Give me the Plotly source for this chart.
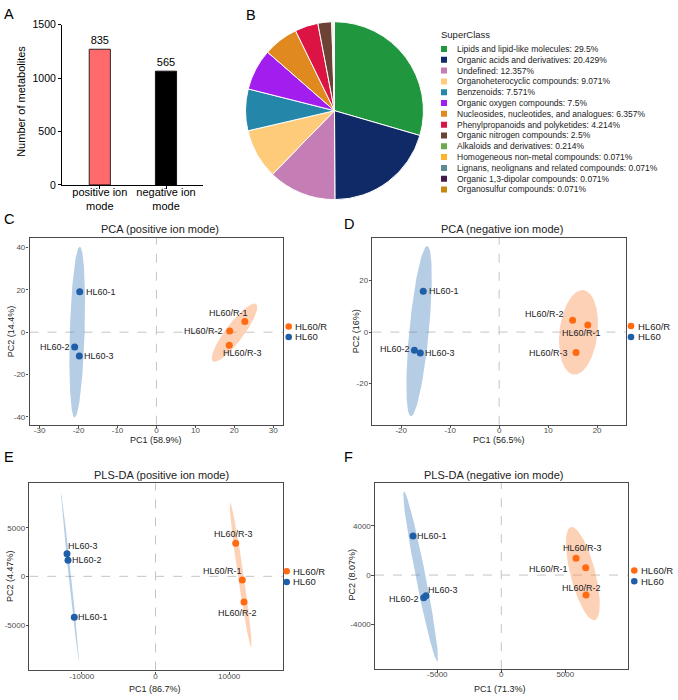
import numpy as np
import plotly.graph_objects as go

W, H = 678, 700
FONT = "Liberation Sans, Arial, sans-serif"


def px(x):
    return x / W


def py(y):
    return 1 - y / H


# ---------------- Panel A data ----------------
bar_categories = ["positive ion<br>mode", "negative ion<br>mode"]
bar_heights = [1270, 1065]
bar_labels = ["835", "565"]
bar_colors = ["#FF6B6B", "#000000"]
bar_yticks = [0, 500, 1000, 1500]

# ---------------- Panel B data ----------------
pie_classes = [
    "Lipids and lipid-like molecules",
    "Organic acids and derivatives",
    "Undefined",
    "Organoheterocyclic compounds",
    "Benzenoids",
    "Organic oxygen compounds",
    "Nucleosides, nucleotides, and analogues",
    "Phenylpropanoids and polyketides",
    "Organic nitrogen compounds",
    "Alkaloids and derivatives",
    "Homogeneous non-metal compounds",
    "Lignans, neolignans and related compounds",
    "Organic 1,3-dipolar compounds",
    "Organosulfur compounds",
]
pie_percent = [29.5, 20.429, 12.357, 9.071, 7.571, 7.5, 6.357, 4.214, 2.5,
               0.214, 0.071, 0.071, 0.071, 0.071]
pie_colors = ["#20963F", "#0F2A66", "#C47DB5", "#FDCB7A", "#2486A9", "#A21EEE",
              "#E0891E", "#DC1444", "#6C4234", "#6DAA4E", "#FFB22E", "#5E8A94",
              "#431A4C", "#C38A12"]

# ---------------- Panels C-F data ----------------
sample_names = ["HL60-1", "HL60-2", "HL60-3", "HL60/R-1", "HL60/R-2", "HL60/R-3"]
sample_groups = ["HL60", "HL60", "HL60", "HL60/R", "HL60/R", "HL60/R"]
group_order = ["HL60/R", "HL60"]
group_colors = {"HL60": "#1F5FA8", "HL60/R": "#FF6A13"}
ellipse_fill = {"HL60": "rgba(70,130,190,0.40)", "HL60/R": "rgba(250,140,70,0.40)"}

pca_pos_pc1 = [-19.7, -21.0, -19.8, 22.7, 18.8, 18.7]
pca_pos_pc2 = [19.1, -7.0, -11.2, 5.0, 0.5, -6.2]
pca_neg_pc1 = [-15.5, -17.3, -16.1, 18.1, 15.0, 15.7]
pca_neg_pc2 = [15.8, -7.0, -8.1, 2.7, 4.6, -7.9]
pls_pos_pc1 = [-11018, -11873, -12008, 11778, 12008, 10882]
pls_pos_pc2 = [-4212, 1646, 2323, -374, -2626, 3394]
pls_neg_pc1 = [-6898, -6063, -5883, 6594, 6617, 5836]
pls_neg_pc2 = [3176, -1840, -1680, 587, -1627, 1360]

# confidence ellipses: center, conjugate semi-axis vectors (data units)
ell_pca_pos = {"HL60": [(-20.35, 0.05), (0.65, 40.35), (1.9, 0.0)],
               "HL60/R": [(20.05, -0.25), (5.55, 13.55), (1.85, -2.5)]}
ell_pca_neg = {"HL60": [(-16.35, 0.35), (1.65, 33.0), (2.0, 0.0)],
               "HL60/R": [(16.2, -0.1), (0.8, 16.4), (3.9, 0.0)]}
ell_pls_pos = {"HL60": [(-11601, -106), (-1221, 8621), (165, 0)],
               "HL60/R": [(11555, 147), (-1446, 7460), (400, 0)]}
ell_pls_neg = {"HL60": [(-6301, -108), (-1301, 6908), (390, 0)],
               "HL60/R": [(6371, 120), (-871, 3800), (1000, 0)]}

panels = [
    dict(key="C", title="PCA (positive ion mode)", xt="PC1 (58.9%)", yt="PC2 (14.4%)",
         x=pca_pos_pc1, y=pca_pos_pc2, ell=ell_pca_pos,
         box=(29.5, 283, 236, 426), xr=[-32.6, 32.5], yr=[-43.7, 44.5],
         xticks=[-30, -20, -10, 0, 10, 20, 30], yticks=[-40, -20, 0, 20, 40],
         title_xy=(160, 227), xt_xy=(156, 442), yt_xy=(11, 331),
         leg_x=288.7, leg_y=(326, 336.7),
         offs=[(21.3, 0), (-19.5, 0), (19.9, 0), (-16.6, -8.6), (-26.5, 0), (13.6, 8)],
         letter=(2, 217)),
    dict(key="D", title="PCA (negative ion mode)", xt="PC1 (56.5%)", yt="PC2 (16%)",
         x=pca_neg_pc1, y=pca_neg_pc2, ell=ell_pca_neg,
         box=(372.3, 626, 235.7, 426), xr=[-25.9, 25.9], yr=[-35.9, 36.6],
         xticks=[-20, -10, 0, 10, 20], yticks=[-20, 0, 20],
         title_xy=(501.7, 227), xt_xy=(499, 442), yt_xy=(356, 331),
         leg_x=631, leg_y=(325.7, 336.7),
         offs=[(21.2, 0), (-19.5, -0.7), (20, 0), (-6, 8.3), (-27.7, -6.4), (-27.5, 0.7)],
         letter=(342, 222)),
    dict(key="E", title="PLS-DA (positive ion mode)", xt="PC1 (86.7%)", yt="PC2 (4.47%)",
         x=pls_pos_pc1, y=pls_pos_pc2, ell=ell_pls_pos,
         box=(29.3, 283, 485.7, 676), xr=[-17124, 17300], yr=[-9667, 9555],
         xticks=[-10000, 0, 10000], yticks=[-5000, 0, 5000],
         title_xy=(161, 477), xt_xy=(155, 694.5), yt_xy=(10, 580),
         leg_x=286.7, leg_y=(575, 586),
         offs=[(18.9, 0), (19, 0), (15.8, -7.3), (-20.1, -9), (-6.8, 11.4), (-1.9, -9.4)],
         letter=(2, 459)),
    dict(key="F", title="PLS-DA (negative ion mode)", xt="PC1 (71.3%)", yt="PC2 (8.07%)",
         x=pls_neg_pc1, y=pls_neg_pc2, ell=ell_pls_neg,
         box=(375, 628.3, 485, 674.7), xr=[-9867, 9922], yr=[-7656, 7520],
         xticks=[-5000, 0, 5000], yticks=[-4000, 0, 4000],
         title_xy=(493, 477), xt_xy=(500, 694.5), yt_xy=(352.5, 579),
         leg_x=634.3, leg_y=(574.3, 585.3),
         offs=[(19, 0), (-19.5, 1), (16.5, -5.7), (-37.4, 1), (-4.8, -6.6), (6.2, -10.3)],
         letter=(342, 459)),
]

fig = go.Figure()
annotations = []
shapes = []

# ---------------- Panel A ----------------
fig.add_trace(go.Bar(
    x=bar_categories, y=bar_heights, text=bar_labels, textposition="outside",
    textfont=dict(size=11, color="black", family=FONT),
    marker=dict(color=bar_colors, line=dict(color="black", width=0.8)),
    width=0.32, cliponaxis=False, showlegend=False, xaxis="x", yaxis="y"))
layout_axes = {}
layout_axes["xaxis"] = dict(
    domain=[px(62), px(203)], range=[-0.571, 1.559], type="category",
    showline=True, linecolor="black", linewidth=1, ticks="outside", ticklen=3,
    tickcolor="black", tickfont=dict(size=11, color="black", family=FONT),
    ticklabelstandoff=-6,
    showgrid=False, zeroline=False, anchor="y", fixedrange=True)
layout_axes["yaxis"] = dict(
    domain=[py(182), py(19)], range=[0, 1500], tickvals=bar_yticks,
    showline=True, linecolor="black", linewidth=1, ticks="outside", ticklen=3,
    tickcolor="black", tickfont=dict(size=10.5, color="black", family=FONT),
    showgrid=False, zeroline=False, anchor="x")
annotations.append(dict(text="Number of metabolites", xref="paper", yref="paper",
                        x=px(21.5), y=py(97), textangle=-90, showarrow=False,
                        font=dict(size=11, color="black", family=FONT),
                        xanchor="center", yanchor="middle"))

# ---------------- Panel B ----------------
fig.add_trace(go.Pie(
    labels=pie_classes, values=pie_percent, sort=False, direction="clockwise",
    rotation=0, marker=dict(colors=pie_colors, line=dict(color="white", width=1)),
    textinfo="none", showlegend=False,
    domain=dict(x=[px(244), px(425)], y=[py(197), py(16)])))

leg_idx = list(range(len(pie_classes)))
fig.add_trace(go.Scatter(
    x=[0.025] * len(pie_classes), y=leg_idx, mode="markers",
    marker=dict(symbol="square", size=6, color=pie_colors, line=dict(width=0)),
    showlegend=False, hoverinfo="skip", xaxis="x2", yaxis="y2"))
layout_axes["xaxis2"] = dict(domain=[px(438), px(678)], range=[0, 1], visible=False,
                             anchor="y2", fixedrange=True)
layout_axes["yaxis2"] = dict(domain=[py(192.2), py(38.2)], range=[13.5, -0.5],
                             visible=False, anchor="x2", fixedrange=True)
for i, (name, pct) in enumerate(zip(pie_classes, pie_percent)):
    annotations.append(dict(text=f"{name}: {pct:g}%", xref="x2", yref="y2",
                            x=0.0708, y=i, xanchor="left", yanchor="middle",
                            showarrow=False,
                            font=dict(size=8.5, color="#222222", family=FONT)))
annotations.append(dict(text="SuperClass", xref="paper", yref="paper", x=px(439.5),
                        y=py(28.5), xanchor="left", yanchor="middle", showarrow=False,
                        font=dict(size=9.5, color="#222222", family=FONT)))

# panel letters A, B
annotations.append(dict(text="A", xref="paper", yref="paper", x=px(2), y=py(8.5),
                        xanchor="left", yanchor="middle", showarrow=False,
                        font=dict(size=14.5, color="black", family=FONT)))
annotations.append(dict(text="B", xref="paper", yref="paper", x=px(243.5), y=py(8.7),
                        xanchor="left", yanchor="middle", showarrow=False,
                        font=dict(size=14.5, color="black", family=FONT)))

# ---------------- Panels C-F ----------------
t = np.linspace(0, 2 * np.pi, 181)
for k, p in enumerate(panels):
    n = k + 3
    xa, ya = f"x{n}", f"y{n}"
    x0, x1, y0, y1 = p["box"]
    layout_axes[f"xaxis{n}"] = dict(
        domain=[px(x0), px(x1)], range=p["xr"], tickvals=p["xticks"],
        ticktext=[str(v) for v in p["xticks"]], showline=True, mirror=True,
        linecolor="#4a4a4a", linewidth=1.2, ticks="outside", ticklen=2.5,
        tickcolor="#4a4a4a", tickfont=dict(size=8, color="#4d4d4d", family=FONT),
        ticklabelstandoff=-5,
        showgrid=False, zeroline=False, anchor=ya)
    layout_axes[f"yaxis{n}"] = dict(
        domain=[py(y1), py(y0)], range=p["yr"], tickvals=p["yticks"],
        ticktext=[str(v) for v in p["yticks"]], showline=True, mirror=True,
        linecolor="#4a4a4a", linewidth=1.2, ticks="outside", ticklen=2.5,
        tickcolor="#4a4a4a", tickfont=dict(size=8, color="#4d4d4d", family=FONT),
        ticklabelstandoff=-1,
        showgrid=False, zeroline=False, anchor=xa)
    # dashed zero lines
    shapes.append(dict(type="line", xref=xa, yref=f"{ya} domain", x0=0, x1=0, y0=0, y1=1,
                       line=dict(color="#c4c4c4", width=1, dash="dash"), layer="below"))
    shapes.append(dict(type="line", xref=f"{xa} domain", yref=ya, x0=0, x1=1, y0=0, y1=0,
                       line=dict(color="#c4c4c4", width=1, dash="dash"), layer="below"))
    # ellipses
    for g in ["HL60", "HL60/R"]:
        (cx, cy), (ux, uy), (vx, vy) = p["ell"][g]
        ex = cx + ux * np.cos(t) + vx * np.sin(t)
        ey = cy + uy * np.cos(t) + vy * np.sin(t)
        fig.add_trace(go.Scatter(x=ex, y=ey, mode="lines", fill="toself",
                                 fillcolor=ellipse_fill[g], line=dict(width=0),
                                 showlegend=False, hoverinfo="skip", xaxis=xa, yaxis=ya))
    # points
    for g in ["HL60", "HL60/R"]:
        idx = [i for i, s in enumerate(sample_groups) if s == g]
        fig.add_trace(go.Scatter(
            x=[p["x"][i] for i in idx], y=[p["y"][i] for i in idx], mode="markers",
            marker=dict(size=7, color=group_colors[g]),
            text=[sample_names[i] for i in idx], hoverinfo="text",
            showlegend=False, xaxis=xa, yaxis=ya, cliponaxis=False))
    # point labels
    for i, name in enumerate(sample_names):
        dx, dy = p["offs"][i]
        annotations.append(dict(text=name, xref=xa, yref=ya, x=p["x"][i], y=p["y"][i],
                                xshift=dx, yshift=-dy, showarrow=False,
                                xanchor="center", yanchor="middle",
                                font=dict(size=9, color="#222222", family=FONT)))
    # titles
    tx, ty = p["title_xy"]
    annotations.append(dict(text=p["title"], xref="paper", yref="paper", x=px(tx),
                            y=py(ty), showarrow=False, xanchor="center", yanchor="middle",
                            font=dict(size=11, color="#222222", family=FONT)))
    xx, xy = p["xt_xy"]
    annotations.append(dict(text=p["xt"], xref="paper", yref="paper", x=px(xx),
                            y=py(xy), showarrow=False, xanchor="center", yanchor="middle",
                            font=dict(size=9, color="#222222", family=FONT)))
    yx, yy = p["yt_xy"]
    annotations.append(dict(text=p["yt"], xref="paper", yref="paper", x=px(yx),
                            y=py(yy), showarrow=False, xanchor="center", yanchor="middle",
                            textangle=-90,
                            font=dict(size=9, color="#222222", family=FONT)))
    # group legend
    for j, g in enumerate(group_order):
        lx, ly = p["leg_x"], p["leg_y"][j]
        r = 3.3
        shapes.append(dict(type="circle", xref="paper", yref="paper",
                           x0=px(lx - r), x1=px(lx + r), y0=py(ly + r), y1=py(ly - r),
                           fillcolor=group_colors[g], line=dict(width=0)))
        annotations.append(dict(text=g, xref="paper", yref="paper", x=px(lx + 4.5),
                                y=py(ly), xanchor="left", yanchor="middle",
                                showarrow=False,
                                font=dict(size=9.5, color="#222222", family=FONT)))
    lx, ly = p["letter"]
    annotations.append(dict(text=p["key"], xref="paper", yref="paper", x=px(lx), y=py(ly),
                            xanchor="left", yanchor="middle", showarrow=False,
                            font=dict(size=14.5, color="black", family=FONT)))

fig.update_layout(
    width=W, height=H, margin=dict(l=0, r=0, t=0, b=0),
    paper_bgcolor="white", plot_bgcolor="white",
    font=dict(family=FONT, color="#222222"),
    annotations=annotations, shapes=shapes, **layout_axes)

fig.write_html("out.html")
